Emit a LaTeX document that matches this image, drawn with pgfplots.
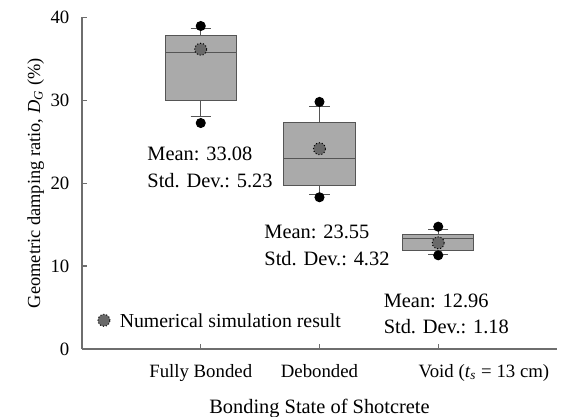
\documentclass[border=0pt]{standalone}
\usepackage{fontspec}
\setmainfont{Liberation Serif}
\usepackage{pgfplots}
\pgfplotsset{compat=1.18}
\usepgfplotslibrary{statistics}
\usetikzlibrary{calc}
\definecolor{axgray}{RGB}{110,110,110}
\definecolor{boxfill}{RGB}{170,170,170}
\definecolor{boxedge}{RGB}{85,85,85}
\definecolor{simfill}{RGB}{105,105,105}
\begin{document}
\begin{tikzpicture}
\fontsize{9}{11}\selectfont
\begin{axis}[
  name=ax,
  scale only axis,
  width=237.5pt, height=165.85pt,
  xmin=0, xmax=4, ymin=0, ymax=40,
  clip=false,
  axis x line*=bottom, axis y line*=left,
  axis line style={axgray, line width=0.8pt},
  tick style={axgray, line width=0.6pt},
  tick align=inside,
  major tick length=2.6pt,
  xtick={1,2,3},
  xticklabels={Fully Bonded, Debonded, {\makebox[0pt][l]{\hspace{-9.8pt}Void (\textit{t}\textsubscript{\textit{s}} = 13 cm)}}},
  ytick={0,10,20,30,40},
  /pgf/number format/assume math mode=true,
  tick label style={font=\fontsize{9.4}{11}\selectfont},
  yticklabel style={xshift=-3.1pt},
  xticklabel style={yshift=-4.5pt},
  ylabel={Geometric damping ratio, \textit{D}\textsubscript{\textit{G}} (\%)},
  xlabel={Bonding State of Shotcrete},
  ylabel style={font=\fontsize{9.2}{11}\selectfont, yshift=-3pt},
  xlabel style={font=\fontsize{10.2}{12}\selectfont, yshift=-2.5pt},
  boxplot/draw direction=y,
]
% boxes (min / max shown as outlier dots)
\addplot[draw=boxedge, fill=boxfill, line width=0.5pt,
  mark=*, mark size=2.25pt, mark options={fill=black, draw=black, solid},
  boxplot prepared={lower whisker=28.0, lower quartile=30.0, median=35.75,
    upper quartile=37.8, upper whisker=38.65, draw position=1,
    box extend=0.6, whisker extend=0.17}]
  table[row sep=\\, y index=0] {data\\ 38.95\\ 27.25\\};
\addplot[draw=boxedge, fill=boxfill, line width=0.5pt,
  mark=*, mark size=2.25pt, mark options={fill=black, draw=black, solid},
  boxplot prepared={lower whisker=18.6, lower quartile=19.75, median=23.0,
    upper quartile=27.3, upper whisker=29.3, draw position=2,
    box extend=0.6, whisker extend=0.17}]
  table[row sep=\\, y index=0] {data\\ 29.8\\ 18.3\\};
\addplot[draw=boxedge, fill=boxfill, line width=0.5pt,
  mark=*, mark size=2.25pt, mark options={fill=black, draw=black, solid},
  boxplot prepared={lower whisker=11.45, lower quartile=11.85, median=13.3,
    upper quartile=13.8, upper whisker=14.45, draw position=3,
    box extend=0.6, whisker extend=0.17}]
  table[row sep=\\, y index=0] {data\\ 14.75\\ 11.3\\};
% numerical simulation results
\addplot[only marks, mark=*, mark size=3pt,
  mark options={fill=simfill, draw=black, densely dotted, line width=0.5pt}]
  coordinates {(1,36.15) (2,24.15) (3,12.8) (0.185,3.46)};
\node[anchor=west, inner sep=0pt, font=\fontsize{9.9}{12}\selectfont] at (axis cs:0.315,3.46) {Numerical simulation result};
% annotations
\node[anchor=north west, align=left, inner sep=0pt, font=\fontsize{10.2}{12.3}\selectfont] at (axis cs:0.548,24.37)
  {Mean: 33.08\\[0.8pt]Std. Dev.: 5.23};
\node[anchor=north west, align=left, inner sep=0pt, font=\fontsize{10.2}{12.3}\selectfont] at (axis cs:1.533,14.96)
  {Mean: 23.55\\[0.8pt]Std. Dev.: 4.32};
\node[anchor=north west, align=left, inner sep=0pt, font=\fontsize{10.2}{12.3}\selectfont] at (axis cs:2.538,6.72)
  {Mean: 12.96\\[0.8pt]Std. Dev.: 1.18};
\end{axis}
\pgfresetboundingbox
\path ($(ax.south west)+(-41pt,-34pt)$) rectangle ($(ax.north east)+(6.5pt,8.65pt)$);
\end{tikzpicture}
\end{document}
